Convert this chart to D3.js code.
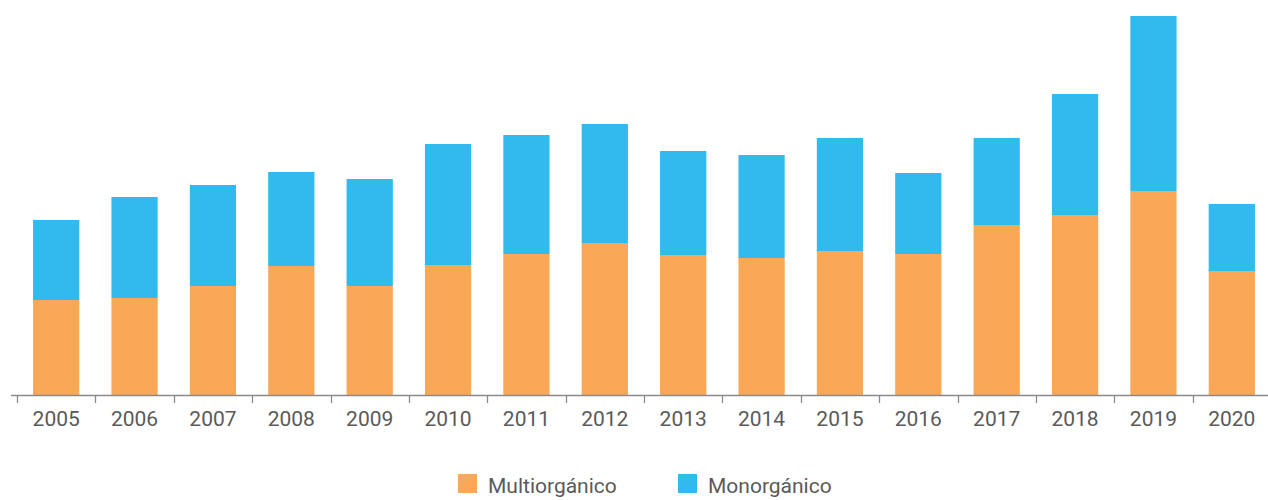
<!DOCTYPE html>
<html>
<head>
<meta charset="utf-8">
<script src="https://cdn.jsdelivr.net/npm/d3@7"></script>
<style>
  body { margin: 0; background: #fff; }
  svg text { font-family: Roboto, "Noto Sans", sans-serif; fill: #5a5a5a; }
</style>
</head>
<body>
<svg id="chart" width="1268" height="500"></svg>
<script>
// chart data
const years = ["2005","2006","2007","2008","2009","2010","2011","2012","2013","2014","2015","2016","2017","2018","2019","2020"];
const multiorganico = [95, 97, 109, 129, 109, 130, 141, 152, 140, 137, 144, 141, 170, 180, 204, 124];
const monorganico   = [80, 101, 101, 94, 107, 121, 119, 119, 104, 103, 113, 81, 87, 121, 175, 67];
const seriesNames = ["Multiorgánico", "Monorgánico"];
const seriesColors = ["#f9a857", "#31baee"];

const svg = d3.select("#chart");
const baseY = 395;

const rows = years.map((y, i) => ({ year: y, multi: multiorganico[i], mono: monorganico[i] }));
const stack = d3.stack().keys(["multi", "mono"])(rows);

const x = d3.scaleBand()
    .domain(years)
    .range([17, 1271])
    .paddingInner(0.41)
    .paddingOuter(0.205);

const y = d3.scaleLinear()
    .domain([0, d3.max(rows, d => d.multi + d.mono)])
    .range([baseY, 16]);

// bars
svg.append("g").selectAll("g")
  .data(stack)
  .join("g")
    .attr("fill", (d, i) => seriesColors[i])
  .selectAll("rect")
  .data(d => d)
  .join("rect")
    .attr("x", d => x(d.data.year))
    .attr("width", x.bandwidth())
    .attr("y", d => y(d[1]))
    .attr("height", d => y(d[0]) - y(d[1]));

// axis line + ticks between categories
const axis = svg.append("g");
axis.append("line")
    .attr("x1", 11).attr("x2", 1268)
    .attr("y1", baseY + 0.5).attr("y2", baseY + 0.5)
    .attr("stroke", "#8a8a8a").attr("stroke-width", 1.3);

const step = x.step();
axis.selectAll("line.tick")
  .data(years)
  .join("line")
    .attr("class", "tick")
    .attr("x1", d => Math.round(x(d) - x.paddingOuter() * step) + 0.5)
    .attr("x2", d => Math.round(x(d) - x.paddingOuter() * step) + 0.5)
    .attr("y1", baseY).attr("y2", baseY + 8)
    .attr("stroke", "#8a8a8a").attr("stroke-width", 1.3);

axis.selectAll("text")
  .data(years)
  .join("text")
    .attr("x", d => x(d) + x.bandwidth() / 2)
    .attr("y", 426)
    .attr("text-anchor", "middle")
    .attr("font-size", 21)
    .text(d => d);

// legend
const legendX = [458, 678];
const legend = svg.append("g").selectAll("g")
  .data(seriesNames)
  .join("g")
    .attr("transform", (d, i) => `translate(${legendX[i]},474)`);

legend.append("rect")
    .attr("width", 19).attr("height", 19)
    .attr("fill", (d, i) => seriesColors[i]);

legend.append("text")
    .attr("x", 30).attr("y", 19)
    .attr("font-size", 21)
    .text(d => d);
</script>
</body>
</html>
